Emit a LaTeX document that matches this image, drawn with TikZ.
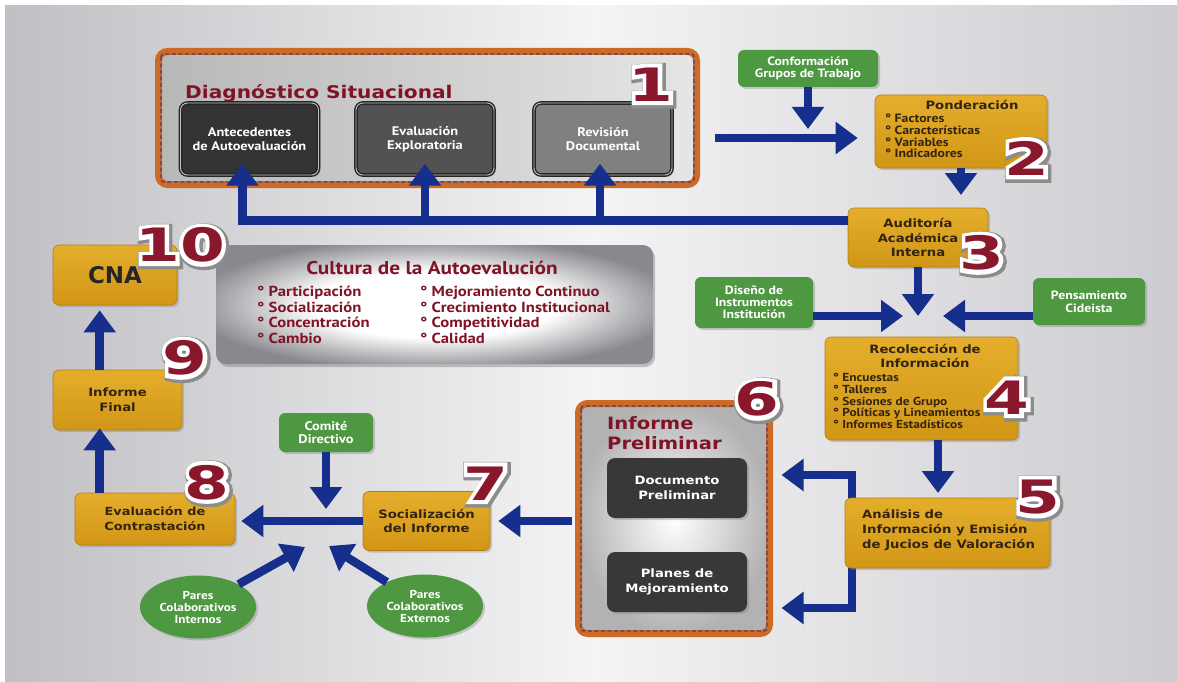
\documentclass[tikz,border=0pt]{standalone}
\usepackage{fontspec}
\setmainfont{PT Sans}[FakeStretch=1.15]
\newfontfamily\heavy[FakeStretch=1.15]{DejaVu Sans}
\newfontfamily\dvs{DejaVu Sans}
\newfontfamily\numfont[FakeStretch=1.4]{DejaVu Sans}
\newfontfamily\numout[FakeStretch=1.4,BoldFeatures={FakeBold=18}]{DejaVu Sans}
\newfontfamily\numshade[FakeStretch=1.4,BoldFeatures={FakeBold=26}]{DejaVu Sans}
\usetikzlibrary{arrows.meta,shadows,calc,shapes.geometric}
\definecolor{navy}{RGB}{22,46,140}
\definecolor{gold}{RGB}{210,150,22}
\definecolor{goldtop}{RGB}{228,174,44}
\definecolor{golddark}{RGB}{180,125,20}
\definecolor{frame}{RGB}{205,106,38}
\definecolor{dashc}{RGB}{74,60,110}
\definecolor{leaf}{RGB}{78,152,66}
\definecolor{dred}{RGB}{128,20,38}
\definecolor{numred}{RGB}{138,24,44}
\definecolor{ink}{RGB}{52,36,14}
\definecolor{bgL}{RGB}{192,192,196}
\definecolor{bgM}{RGB}{244,244,246}
\definecolor{bgR}{RGB}{204,204,208}
\definecolor{cultgray}{RGB}{136,136,142}
\pgfdeclareradialshading{cultshade}{\pgfpoint{0bp}{0bp}}{color(0bp)=(white); color(14bp)=(white); color(28bp)=(cultgray); color(50bp)=(cultgray)}
\newcommand{\stagenum}[1]{\rlap{\raisebox{-1.5pt}{\hspace*{1.5pt}\color{black!45}\numshade\bfseries #1}}\rlap{\color{white}\numout\bfseries #1}{\color{numred}\numfont\bfseries #1}}
\tikzset{
  arr/.style={draw=navy, line width=8.5pt, -{Triangle[width=31pt,length=22pt]}},
  shd/.style={drop shadow={opacity=0.35,shadow xshift=2pt,shadow yshift=-2pt}},
  obox/.style={rounded corners=6pt, top color=goldtop, bottom color=gold, draw=golddark, line width=0.6pt, inner sep=0, text=ink, align=center, shd},
  hv/.style={font=\heavy\bfseries\fontsize{11.5}{14.5}\selectfont},
  gbox/.style={rounded corners=6pt, fill=leaf, inner sep=0, text=white, align=center, font=\bfseries\fontsize{12}{12.8}\selectfont, shd},
  gell/.style={ellipse, fill=leaf, inner sep=0, text=white, align=center, font=\bfseries\fontsize{11.5}{12}\selectfont, minimum width=116, minimum height=63, shd},
  dbox/.style={rounded corners=7pt, draw=black!85, line width=1.4pt, double=black!25, double distance=0.9pt, text=white, align=center, inner sep=0, font=\bfseries\fontsize{12.5}{13.5}\selectfont, minimum width=138, minimum height=72, shd},
  kbox/.style={rounded corners=8pt, fill=black!78, text=white, align=center, inner sep=0, font=\heavy\bfseries\fontsize{11.5}{15}\selectfont, minimum width=140, minimum height=60, shd},
  frm/.style={draw=frame, line width=7pt, rounded corners=9pt, inner sep=0, shd},
  dsh/.style={draw=dashc, line width=1.3pt, dash pattern=on 4pt off 2.5pt, rounded corners=3pt},
  num/.style={inner sep=0, font=\fontsize{46}{46}\selectfont},
  itm/.style={anchor=west, align=left, inner sep=0, font=\bfseries\fontsize{12}{11.8}\selectfont, text=ink}
}
\begin{document}
\begin{tikzpicture}[x=1pt,y=-1pt]
\useasboundingbox (0,0) rectangle (1177,682);
\fill[white] (0,0) rectangle (1177,682);
\shade[left color=bgL, right color=bgR, middle color=bgM] (5,6) rectangle (1177,682);

% ---- 1 Diagnostico
\node[frm, left color=black!28, right color=black!10, minimum width=538, minimum height=133] (diag) at (427.5,118) {};
\draw[dsh] ($(diag.north west)+(6,6)$) rectangle ($(diag.south east)+(-6,-6)$);
\node[anchor=west, inner sep=0, text=dred, font=\heavy\bfseries\fontsize{17.5}{17.5}\selectfont] (diagt) at (185,93) {Diagnóstico Situacional};
\node[dbox, fill=black!80] (ante) at (249.5,139) {Antecedentes\\de Autoevaluación};
\node[dbox, fill=black!68] (evl) at (425,139) {Evaluación\\Exploratoria};
\node[dbox, fill=black!50] (rev) at (603,139) {Revisión\\Documental};

% ---- green inputs
\node[gbox, minimum width=140, minimum height=37] (conf) at (808,68.5) {Conformación\\Grupos de Trabajo};
\node[gbox, minimum width=118, minimum height=51, font=\bfseries\fontsize{12}{12}\selectfont] (dis) at (754,302.5) {Diseño de\\Instrumentos\\Institución};
\node[gbox, minimum width=112, minimum height=47] (pen) at (1089,301.5) {Pensamiento\\Cideista};
\node[gbox, minimum width=94, minimum height=39, font=\bfseries\fontsize{12.5}{13}\selectfont] (com) at (326,432.5) {Comité\\Directivo};
\node[gell] (pin) at (198,607) {Pares\\Colaborativos\\Internos};
\node[gell] (pex) at (425,606) {Pares\\Colaborativos\\Externos};

% ---- 2 Ponderacion
\node[obox, minimum width=172, minimum height=73] (pond) at (961,131.5) {};
\node[inner sep=0, text=ink, font=\heavy\bfseries\fontsize{11.5}{11.5}\selectfont] (pondt) at (972,105) {Ponderación};
\node[itm] (pondi) at (885,136) {° Factores\\° Características\\° Variables\\° Indicadores};

% ---- 3 Auditoria
\node[obox, hv, minimum width=140, minimum height=59] (aud) at (918,237.5) {Auditoría\\Académica\\Interna};

% ---- 4 Recoleccion
\node[obox, minimum width=193, minimum height=103] (rec) at (921.5,388.5) {};
\node[inner sep=0, align=center, text=ink, font=\heavy\bfseries\fontsize{11.5}{14}\selectfont] (rect) at (925,356) {Recolección de\\Información};
\node[itm, font=\bfseries\fontsize{11.6}{11.8}\selectfont] (reci) at (833,401) {° Encuestas\\° Talleres\\° Sesiones de Grupo\\° Políticas y Lineamientos\\° Informes Estadísticos};

% ---- 6 Informe Preliminar
\node[frm, inner color=white, outer color=black!30, minimum width=191, minimum height=230] (ip) at (674,518.5) {};
\draw[dsh] ($(ip.north west)+(6,6)$) rectangle ($(ip.south east)+(-6,-6)$);
\node[anchor=west, inner sep=0, align=left, text=dred, font=\heavy\bfseries\fontsize{17}{19.5}\selectfont] (ipt) at (607,433) {Informe\\Preliminar};
\node[kbox] (doc) at (677,488) {Documento\\Preliminar};
\node[kbox] (plan) at (677,582) {Planes de\\Mejoramiento};

% ---- bracket from 5 (behind box 5)
\coordinate (bk) at (852,540);
\draw[arr] (bk) |- ($(ip.east)+(8.5,-43.5)$);
\draw[arr] (bk) |- ($(ip.east)+(8.5,89.5)$);

% ---- 5 Analisis
\node[obox, minimum width=205, minimum height=70] (ana) at (947.5,533) {};
\node[anchor=west, inner sep=0, align=left, text=ink, font=\heavy\bfseries\fontsize{11.5}{15}\selectfont] (anat) at (862,530) {Análisis de\\Información y Emisión\\de Jucios de Valoración};

% ---- 7, 8, 9, 10
\node[obox, hv, minimum width=127, minimum height=59] (soc) at (426.5,521) {Socialización\\del Informe};
\node[obox, hv, font=\heavy\bfseries\fontsize{11.2}{15}\selectfont, minimum width=160, minimum height=52] (evc) at (155,519) {Evaluación de\\Contrastación};
\node[obox, hv, font=\heavy\bfseries\fontsize{11.5}{15}\selectfont, minimum width=129, minimum height=60] (fin) at (117.5,400) {Informe\\Final};
\node[obox, minimum width=124, minimum height=60, text=black!85, font=\dvs\bfseries\fontsize{23}{23}\selectfont] (cna) at (115,275) {CNA};

% ---- Cultura
\node[shade, shading=cultshade, rounded corners=10pt, inner sep=0, minimum width=437, minimum height=119, drop shadow={opacity=0.45,shadow xshift=2pt,shadow yshift=-3pt}] (cult) at (434.5,304.5) {};
\node[inner sep=0, text=dred, font=\bfseries\fontsize{18.5}{18.5}\selectfont] (cultt) at (432,268) {Cultura de la Autoevalución};
\node[itm, text=dred, font=\bfseries\fontsize{14.5}{15.6}\selectfont] (cultA) at (257,315) {° Participación\\° Socialización\\° Concentración\\° Cambio};
\node[itm, text=dred, font=\bfseries\fontsize{14.5}{15.6}\selectfont] (cultB) at (420,315) {° Mejoramiento Continuo\\° Crecimiento Institucional\\° Competitividad\\° Calidad};

% ---- connectors
\coordinate (hl) at (0,220.5);
\draw[arr] ($(aud.west)+(0,-17)$) -| ($(ante.south)+(-7,-12)$);
\draw[arr] (evl.south |- hl) -- ($(evl.south)+(0,-12)$);
\draw[arr] ($(rev.south |- hl)+(-3,0)$) -- ($(rev.south)+(-3,-12)$);
\draw[arr] ($(diag.east)+(15,20)$) -- ($(pond.west)+(-17,6.5)$);
\coordinate (j1) at (808,129);
\draw[arr] (conf.south) -- (j1);
\coordinate (j2) at (961,195);
\draw[arr] (pond.south) -- (j2);
\coordinate (hub) at (921,316);
\draw[arr] (aud.south) -- (aud.south |- hub);
\draw[arr] (dis.east |- hub) -- ($(hub)+(-18,0)$);
\draw[arr] (pen.west |- hub) -- ($(hub)+(22,0)$);
\coordinate (j3) at (938,493);
\draw[arr] (rec.south -| j3) -- (j3);
\draw[arr] ($(ip.west |- soc.east)+(-3.5,0)$) -- ($(soc.east)+(8,0)$);
\draw[arr] (soc.west) -- ($(soc.west -| evc.east)+(6,0)$);
\coordinate (j4) at (326,509);
\draw[arr] (com.south) -- (j4);
\coordinate (j5) at (305,547);
\coordinate (j6) at (329,546);
\draw[arr] (pin) -- (j5);
\draw[arr] (pex) -- (j6);
\draw[arr] ($(evc.north west)+(25,0)$) -- ($(fin.south west)+(47,-2)$);
\draw[arr] ($(fin.north west)+(47,0)$) -- ($(cna.south west)+(47,5)$);

% ---- step numbers
\node[num] (n1) at (651,85) {\stagenum{1}};
\node[num] (n2) at (1027,159) {\stagenum{2}};
\node[num] (n3) at (982,254) {\stagenum{3}};
\node[num] (n4) at (1007,398) {\stagenum{4}};
\node[num] (n5) at (1038,498) {\stagenum{5}};
\node[num] (n6) at (757,400) {\stagenum{6}};
\node[num] (n7) at (486,484) {\stagenum{7}};
\node[num] (n8) at (207,483) {\stagenum{8}};
\node[num] (n9) at (185,359) {\stagenum{9}};
\node[num] (n10) at (180,246) {\stagenum{10}};
\end{tikzpicture}
\end{document}
